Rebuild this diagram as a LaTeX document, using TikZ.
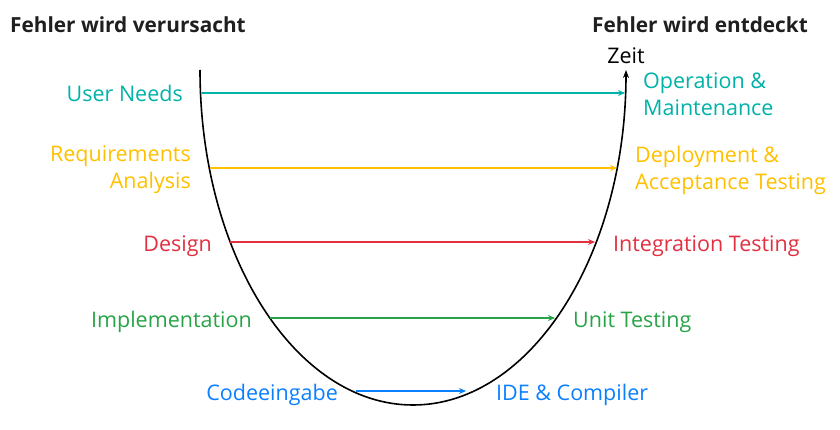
\documentclass[tikz,border=0pt]{standalone}
\usepackage{fontspec}
\setmainfont{Open Sans}
\usetikzlibrary{arrows.meta}
\definecolor{cteal}{RGB}{0,178,168}
\definecolor{cyellow}{RGB}{255,192,0}
\definecolor{cred}{RGB}{226,48,64}
\definecolor{cgreen}{RGB}{40,164,72}
\definecolor{cblue}{RGB}{10,128,255}
\tikzset{
  lbl/.style={inner sep=0pt, font=\fontsize{21.5}{27}\selectfont},
  leftlbl/.style={lbl, anchor=base east, align=right},
  rightlbl/.style={lbl, anchor=base west, align=left},
  leftlbltwo/.style={lbl, anchor=east, align=right},
  rightlbltwo/.style={lbl, anchor=west, align=left},
  title/.style={inner sep=0pt, font=\fontsize{20.8}{24}\selectfont\bfseries, text=black!88},
  conn/.style={line width=1.4pt, -{Stealth[length=7pt,width=6pt]}},
}
\begin{document}
\begin{tikzpicture}[x=1pt,y=1pt]
\useasboundingbox (0,0) rectangle (840,429);
% titles
\node[title, anchor=west] (t1) at (10,404) {Fehler wird verursacht};
\node[title, anchor=west] (t2) at (592,404) {Fehler wird entdeckt};
\node[lbl, text=black] (zeit) at (626,373) {Zeit};
% U curve
\draw[line width=1.6pt, -{Stealth[length=8pt,width=6pt]}] (200,359) arc[start angle=180, end angle=360, x radius=213, y radius=335] coordinate (ctop);
% curve points
\coordinate (l1) at (202,336); \coordinate (r1) at (625,336);
\coordinate (l2) at (210,261); \coordinate (r2) at (617,261);
\coordinate (l3) at (230,187); \coordinate (r3) at (595,187);
\coordinate (l4) at (270,111); \coordinate (r4) at (555,111);
\coordinate (l5) at (356,38);  \coordinate (r5) at (466,38);
% left labels
\node[leftlbl, text=cteal] (a1) at (183,327) {User Needs};
\node[leftlbltwo, text=cyellow] (a2) at (191,259) {Requirements\\Analysis};
\node[leftlbl, text=cred] (a3) at (212,178) {Design};
\node[leftlbl, text=cgreen] (a4) at (252,102) {Implementation};
\node[leftlbl, text=cblue] (a5) at (338,29) {Codeeingabe};
% right labels
\node[rightlbltwo, text=cteal] (b1) at (643,335) {Operation \&\\Maintenance};
\node[rightlbltwo, text=cyellow] (b2) at (635,259) {Deployment \&\\Acceptance Testing};
\node[rightlbl, text=cred] (b3) at (613,178) {Integration Testing};
\node[rightlbl, text=cgreen] (b4) at (573,102) {Unit Testing};
\node[rightlbl, text=cblue] (b5) at (496,29) {IDE \& Compiler};
% connectors
\draw[conn, cteal] (l1) -- (r1);
\draw[conn, cyellow] (l2) -- (r2);
\draw[conn, cred] (l3) -- (r3);
\draw[conn, cgreen] (l4) -- (r4);
\draw[conn, cblue] (l5) -- (r5);
\end{tikzpicture}
\end{document}
